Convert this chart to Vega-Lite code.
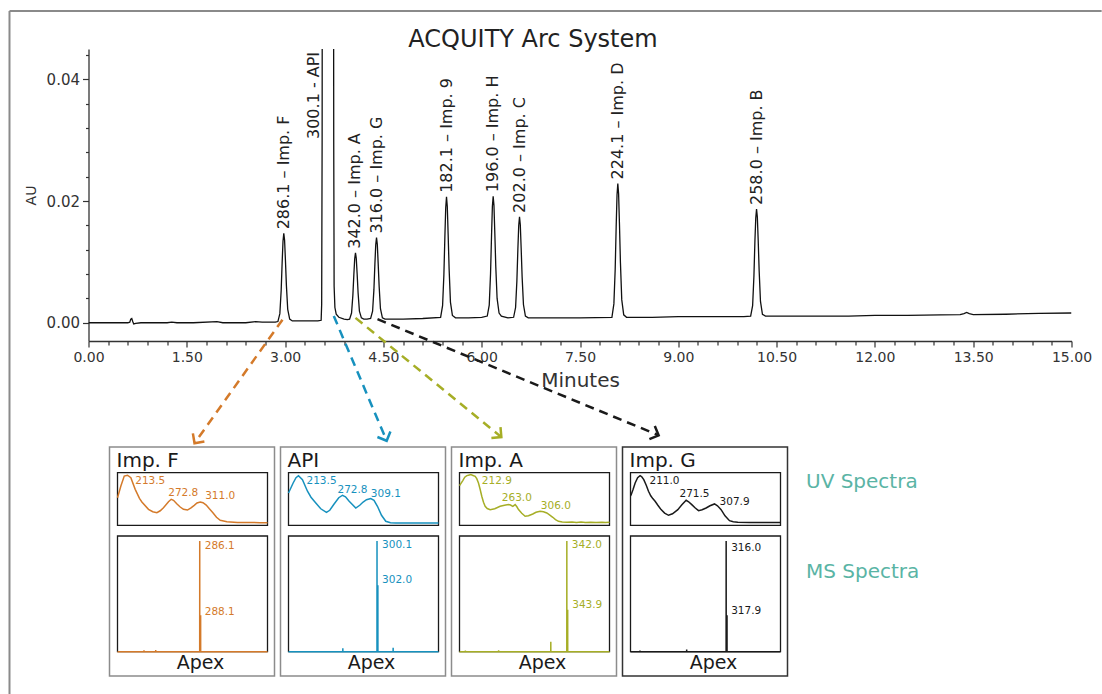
{
  "$schema": "https://vega.github.io/schema/vega-lite/v6.json",
  "padding": {"left": 7.5, "top": 9, "right": 0, "bottom": 0},
  "bounds": "flush",
  "spacing": 106,
  "config": {
    "view": {"stroke": null},
    "font": "DejaVu Sans",
    "text": {"font": "DejaVu Sans"},
    "title": {"font": "DejaVu Sans"},
    "axis": {"labelFont": "DejaVu Sans", "titleFont": "DejaVu Sans", "domainColor": "#333", "tickColor": "#333", "labelColor": "#333", "titleColor": "#333", "grid": false}
  },
  "datasets": {
    "chrom": [
      {"t": 0, "au": 0.0}, {"t": 0.3, "au": 0.0}, {"t": 0.6, "au": 0.0}, {"t": 0.63, "au": 0.0001}, {"t": 0.645, "au": 0.0006}, {"t": 0.66, "au": 0.0007}, {"t": 0.675, "au": 0.0002}, {"t": 0.69, "au": -0.0002}, {"t": 0.72, "au": -0.0001}, {"t": 0.8, "au": 0.0},
      {"t": 1.0, "au": 0.0}, {"t": 1.2, "au": 0.0}, {"t": 1.27, "au": 0.0001}, {"t": 1.35, "au": 0.0}, {"t": 1.6, "au": 0.0}, {"t": 1.96, "au": 0.0002}, {"t": 2.05, "au": 0.0}, {"t": 2.4, "au": 0.0}, {"t": 2.55, "au": 0.0002}, {"t": 2.65, "au": 0.0001}, {"t": 2.85, "au": 0.0001},
      {"t": 2.89, "au": 0.0002}, {"t": 2.92, "au": 0.0015}, {"t": 2.94, "au": 0.0053}, {"t": 2.955, "au": 0.0099}, {"t": 2.968, "au": 0.0134}, {"t": 2.98, "au": 0.0147}, {"t": 2.992, "au": 0.0136}, {"t": 3.005, "au": 0.0103}, {"t": 3.02, "au": 0.0061}, {"t": 3.04, "au": 0.0022}, {"t": 3.07, "au": 0.0006}, {"t": 3.11, "au": 0.0003},
      {"t": 3.3, "au": 0.0003}, {"t": 3.5, "au": 0.0003}, {"t": 3.55, "au": 0.0004}, {"t": 3.558, "au": 0.003}, {"t": 3.565, "au": 0.03}, {"t": 3.572, "au": 0.12}, {"t": 3.6, "au": 0.2}, {"t": 3.65, "au": 0.22}, {"t": 3.7, "au": 0.2}, {"t": 3.735, "au": 0.12}, {"t": 3.742, "au": 0.03}, {"t": 3.748, "au": 0.006}, {"t": 3.76, "au": 0.0025}, {"t": 3.78, "au": 0.0014}, {"t": 3.82, "au": 0.0009}, {"t": 3.9, "au": 0.0006}, {"t": 3.95, "au": 0.0005},
      {"t": 3.984, "au": 0.0006}, {"t": 4.014, "au": 0.0016}, {"t": 4.034, "au": 0.0045}, {"t": 4.049, "au": 0.0079}, {"t": 4.062, "au": 0.0105}, {"t": 4.074, "au": 0.0115}, {"t": 4.086, "au": 0.0106}, {"t": 4.099, "au": 0.0081}, {"t": 4.114, "au": 0.0049}, {"t": 4.134, "au": 0.0019}, {"t": 4.164, "au": 0.0008}, {"t": 4.2, "au": 0.0006}, {"t": 4.25, "au": 0.0006},
      {"t": 4.305, "au": 0.0007}, {"t": 4.335, "au": 0.0019}, {"t": 4.355, "au": 0.0054}, {"t": 4.37, "au": 0.0096}, {"t": 4.383, "au": 0.0128}, {"t": 4.395, "au": 0.014}, {"t": 4.407, "au": 0.0129}, {"t": 4.42, "au": 0.0098}, {"t": 4.435, "au": 0.006}, {"t": 4.455, "au": 0.0023}, {"t": 4.485, "au": 0.0008}, {"t": 4.525, "au": 0.0006},
      {"t": 4.8, "au": 0.0006}, {"t": 5.1, "au": 0.0007},
      {"t": 5.373, "au": 0.0009}, {"t": 5.403, "au": 0.0028}, {"t": 5.423, "au": 0.0079}, {"t": 5.438, "au": 0.0141}, {"t": 5.451, "au": 0.0189}, {"t": 5.463, "au": 0.0207}, {"t": 5.475, "au": 0.0191}, {"t": 5.488, "au": 0.0145}, {"t": 5.503, "au": 0.0088}, {"t": 5.523, "au": 0.0034}, {"t": 5.553, "au": 0.0012}, {"t": 5.6, "au": 0.0008},
      {"t": 5.8, "au": 0.0008}, {"t": 6.0, "au": 0.0009},
      {"t": 6.085, "au": 0.0011}, {"t": 6.115, "au": 0.0029}, {"t": 6.135, "au": 0.0081}, {"t": 6.15, "au": 0.0143}, {"t": 6.163, "au": 0.0191}, {"t": 6.175, "au": 0.0208}, {"t": 6.187, "au": 0.0193}, {"t": 6.2, "au": 0.0148}, {"t": 6.215, "au": 0.0092}, {"t": 6.235, "au": 0.004}, {"t": 6.265, "au": 0.0016}, {"t": 6.3, "au": 0.0011}, {"t": 6.4, "au": 0.0008},
      {"t": 6.487, "au": 0.0009}, {"t": 6.517, "au": 0.0025}, {"t": 6.537, "au": 0.0069}, {"t": 6.552, "au": 0.0121}, {"t": 6.565, "au": 0.016}, {"t": 6.577, "au": 0.0174}, {"t": 6.589, "au": 0.0161}, {"t": 6.602, "au": 0.0123}, {"t": 6.617, "au": 0.0075}, {"t": 6.637, "au": 0.003}, {"t": 6.667, "au": 0.0011}, {"t": 6.71, "au": 0.0008},
      {"t": 7.0, "au": 0.0008}, {"t": 7.5, "au": 0.0008},
      {"t": 7.987, "au": 0.0009}, {"t": 8.017, "au": 0.0031}, {"t": 8.037, "au": 0.0088}, {"t": 8.052, "au": 0.0158}, {"t": 8.065, "au": 0.021}, {"t": 8.077, "au": 0.0229}, {"t": 8.089, "au": 0.0212}, {"t": 8.102, "au": 0.0163}, {"t": 8.117, "au": 0.0099}, {"t": 8.137, "au": 0.0038}, {"t": 8.167, "au": 0.0013}, {"t": 8.21, "au": 0.0009},
      {"t": 8.6, "au": 0.0009}, {"t": 9.0, "au": 0.001}, {"t": 9.5, "au": 0.001}, {"t": 10.0, "au": 0.001},
      {"t": 10.104, "au": 0.0011}, {"t": 10.134, "au": 0.0028}, {"t": 10.154, "au": 0.0077}, {"t": 10.169, "au": 0.0134}, {"t": 10.182, "au": 0.0172}, {"t": 10.194, "au": 0.0187}, {"t": 10.206, "au": 0.0174}, {"t": 10.219, "au": 0.0136}, {"t": 10.234, "au": 0.0085}, {"t": 10.254, "au": 0.0035}, {"t": 10.284, "au": 0.0014}, {"t": 10.33, "au": 0.0011},
      {"t": 11.0, "au": 0.0011}, {"t": 11.6, "au": 0.0011}, {"t": 12.0, "au": 0.0012}, {"t": 12.5, "au": 0.0012}, {"t": 13.0, "au": 0.0013}, {"t": 13.3, "au": 0.00135}, {"t": 13.36, "au": 0.0015}, {"t": 13.4, "au": 0.0017}, {"t": 13.44, "au": 0.0015}, {"t": 13.5, "au": 0.00135}, {"t": 14.0, "au": 0.0014}, {"t": 14.5, "au": 0.00155}, {"t": 15.0, "au": 0.0016}
    ],
    "peaks": [
      {"label": "286.1 – Imp. F", "t": 2.98, "h": 0.0147},
      {"label": "300.1 - API", "t": 3.44, "h": 0.02955},
      {"label": "342.0 – Imp. A", "t": 4.074, "h": 0.0115},
      {"label": "316.0 – Imp. G", "t": 4.395, "h": 0.014},
      {"label": "182.1 – Imp. 9", "t": 5.463, "h": 0.0207},
      {"label": "196.0 – Imp. H", "t": 6.175, "h": 0.0208},
      {"label": "202.0 – Imp. C", "t": 6.577, "h": 0.0174},
      {"label": "224.1 – Imp. D", "t": 8.077, "h": 0.0229},
      {"label": "258.0 – Imp. B", "t": 10.194, "h": 0.0187}
    ],
    "arrows": [
      {"compound": "Imp. F", "t0": 2.96, "a0": 0.0005, "t1": 1.618, "a1": -0.0198},
      {"compound": "API", "t0": 3.743, "a0": 0.0011, "t1": 4.55, "a1": -0.0194},
      {"compound": "Imp. A", "t0": 4.074, "a0": 0.0008, "t1": 6.3, "a1": -0.0188},
      {"compound": "Imp. G", "t0": 4.41, "a0": 0.0006, "t1": 8.7, "a1": -0.0185}
    ],
    "uv": [
      {"compound": "Imp. F", "wl": 200, "a": 0.551}, {"compound": "Imp. F", "wl": 204.5, "a": 0.784}, {"compound": "Imp. F", "wl": 209, "a": 0.984}, {"compound": "Imp. F", "wl": 213.3, "a": 1.0}, {"compound": "Imp. F", "wl": 217.8, "a": 0.95}, {"compound": "Imp. F", "wl": 223.6, "a": 0.718}, {"compound": "Imp. F", "wl": 229.3, "a": 0.539}, {"compound": "Imp. F", "wl": 232.5, "a": 0.465}, {"compound": "Imp. F", "wl": 241.3, "a": 0.319}, {"compound": "Imp. F", "wl": 247, "a": 0.27}, {"compound": "Imp. F", "wl": 252.5, "a": 0.252}, {"compound": "Imp. F", "wl": 257, "a": 0.29}, {"compound": "Imp. F", "wl": 261.3, "a": 0.351}, {"compound": "Imp. F", "wl": 268, "a": 0.471}, {"compound": "Imp. F", "wl": 271.6, "a": 0.519}, {"compound": "Imp. F", "wl": 274.7, "a": 0.499}, {"compound": "Imp. F", "wl": 279, "a": 0.43}, {"compound": "Imp. F", "wl": 283.6, "a": 0.365}, {"compound": "Imp. F", "wl": 288, "a": 0.32}, {"compound": "Imp. F", "wl": 293.3, "a": 0.305}, {"compound": "Imp. F", "wl": 298, "a": 0.35}, {"compound": "Imp. F", "wl": 302.3, "a": 0.399}, {"compound": "Imp. F", "wl": 306, "a": 0.445}, {"compound": "Imp. F", "wl": 310.3, "a": 0.465}, {"compound": "Imp. F", "wl": 314, "a": 0.45}, {"compound": "Imp. F", "wl": 318.3, "a": 0.405}, {"compound": "Imp. F", "wl": 322.5, "a": 0.33}, {"compound": "Imp. F", "wl": 327.2, "a": 0.252}, {"compound": "Imp. F", "wl": 332, "a": 0.16}, {"compound": "Imp. F", "wl": 337, "a": 0.1}, {"compound": "Imp. F", "wl": 345.9, "a": 0.072}, {"compound": "Imp. F", "wl": 360, "a": 0.058}, {"compound": "Imp. F", "wl": 375, "a": 0.055}, {"compound": "Imp. F", "wl": 390, "a": 0.053}, {"compound": "Imp. F", "wl": 400, "a": 0.052},
      {"compound": "API", "wl": 200, "a": 0.645}, {"compound": "API", "wl": 206.2, "a": 0.845}, {"compound": "API", "wl": 210, "a": 0.95}, {"compound": "API", "wl": 213.3, "a": 0.99}, {"compound": "API", "wl": 218.6, "a": 0.91}, {"compound": "API", "wl": 225.3, "a": 0.68}, {"compound": "API", "wl": 230, "a": 0.56}, {"compound": "API", "wl": 236.4, "a": 0.445}, {"compound": "API", "wl": 243, "a": 0.33}, {"compound": "API", "wl": 250.6, "a": 0.26}, {"compound": "API", "wl": 255, "a": 0.3}, {"compound": "API", "wl": 260.8, "a": 0.425}, {"compound": "API", "wl": 267, "a": 0.55}, {"compound": "API", "wl": 272, "a": 0.6}, {"compound": "API", "wl": 276, "a": 0.57}, {"compound": "API", "wl": 280.9, "a": 0.48}, {"compound": "API", "wl": 289.7, "a": 0.345}, {"compound": "API", "wl": 295, "a": 0.4}, {"compound": "API", "wl": 299.5, "a": 0.465}, {"compound": "API", "wl": 304, "a": 0.51}, {"compound": "API", "wl": 309.7, "a": 0.533}, {"compound": "API", "wl": 314, "a": 0.5}, {"compound": "API", "wl": 318.6, "a": 0.38}, {"compound": "API", "wl": 324, "a": 0.2}, {"compound": "API", "wl": 329.7, "a": 0.08}, {"compound": "API", "wl": 336, "a": 0.052}, {"compound": "API", "wl": 343, "a": 0.046}, {"compound": "API", "wl": 370, "a": 0.046}, {"compound": "API", "wl": 400, "a": 0.046},
      {"compound": "Imp. A", "wl": 200, "a": 0.79}, {"compound": "Imp. A", "wl": 200.9, "a": 0.812}, {"compound": "Imp. A", "wl": 204.4, "a": 0.892}, {"compound": "Imp. A", "wl": 207, "a": 0.96}, {"compound": "Imp. A", "wl": 209.8, "a": 0.992}, {"compound": "Imp. A", "wl": 212, "a": 1.0}, {"compound": "Imp. A", "wl": 215.1, "a": 1.012}, {"compound": "Imp. A", "wl": 218, "a": 0.995}, {"compound": "Imp. A", "wl": 220.9, "a": 0.978}, {"compound": "Imp. A", "wl": 223, "a": 0.93}, {"compound": "Imp. A", "wl": 225.3, "a": 0.845}, {"compound": "Imp. A", "wl": 227.5, "a": 0.72}, {"compound": "Imp. A", "wl": 229.7, "a": 0.579}, {"compound": "Imp. A", "wl": 232, "a": 0.46}, {"compound": "Imp. A", "wl": 234.2, "a": 0.379}, {"compound": "Imp. A", "wl": 237, "a": 0.335}, {"compound": "Imp. A", "wl": 240.9, "a": 0.313}, {"compound": "Imp. A", "wl": 247, "a": 0.33}, {"compound": "Imp. A", "wl": 254.2, "a": 0.379}, {"compound": "Imp. A", "wl": 260, "a": 0.4}, {"compound": "Imp. A", "wl": 265.3, "a": 0.413}, {"compound": "Imp. A", "wl": 268, "a": 0.405}, {"compound": "Imp. A", "wl": 271.1, "a": 0.379}, {"compound": "Imp. A", "wl": 274.2, "a": 0.413}, {"compound": "Imp. A", "wl": 276.5, "a": 0.37}, {"compound": "Imp. A", "wl": 278.7, "a": 0.313}, {"compound": "Imp. A", "wl": 283, "a": 0.24}, {"compound": "Imp. A", "wl": 287.5, "a": 0.18}, {"compound": "Imp. A", "wl": 292, "a": 0.19}, {"compound": "Imp. A", "wl": 297.7, "a": 0.226}, {"compound": "Imp. A", "wl": 302, "a": 0.26}, {"compound": "Imp. A", "wl": 307.5, "a": 0.279}, {"compound": "Imp. A", "wl": 312, "a": 0.27}, {"compound": "Imp. A", "wl": 316.4, "a": 0.246}, {"compound": "Imp. A", "wl": 320, "a": 0.21}, {"compound": "Imp. A", "wl": 324.4, "a": 0.16}, {"compound": "Imp. A", "wl": 328, "a": 0.115}, {"compound": "Imp. A", "wl": 332, "a": 0.08}, {"compound": "Imp. A", "wl": 337, "a": 0.066}, {"compound": "Imp. A", "wl": 343.1, "a": 0.06}, {"compound": "Imp. A", "wl": 350, "a": 0.066}, {"compound": "Imp. A", "wl": 356, "a": 0.058}, {"compound": "Imp. A", "wl": 362, "a": 0.064}, {"compound": "Imp. A", "wl": 368, "a": 0.056}, {"compound": "Imp. A", "wl": 375, "a": 0.062}, {"compound": "Imp. A", "wl": 382, "a": 0.057}, {"compound": "Imp. A", "wl": 390, "a": 0.063}, {"compound": "Imp. A", "wl": 395, "a": 0.058}, {"compound": "Imp. A", "wl": 400, "a": 0.06},
      {"compound": "Imp. G", "wl": 200, "a": 0.59}, {"compound": "Imp. G", "wl": 200.9, "a": 0.612}, {"compound": "Imp. G", "wl": 203.5, "a": 0.72}, {"compound": "Imp. G", "wl": 206.2, "a": 0.845}, {"compound": "Imp. G", "wl": 209.5, "a": 0.95}, {"compound": "Imp. G", "wl": 212.8, "a": 0.992}, {"compound": "Imp. G", "wl": 215, "a": 0.97}, {"compound": "Imp. G", "wl": 217.7, "a": 0.912}, {"compound": "Imp. G", "wl": 221, "a": 0.8}, {"compound": "Imp. G", "wl": 224, "a": 0.679}, {"compound": "Imp. G", "wl": 227, "a": 0.59}, {"compound": "Imp. G", "wl": 229.7, "a": 0.533}, {"compound": "Imp. G", "wl": 232.8, "a": 0.479}, {"compound": "Imp. G", "wl": 236.5, "a": 0.4}, {"compound": "Imp. G", "wl": 240.8, "a": 0.313}, {"compound": "Imp. G", "wl": 245.5, "a": 0.245}, {"compound": "Imp. G", "wl": 250.7, "a": 0.2}, {"compound": "Imp. G", "wl": 256, "a": 0.23}, {"compound": "Imp. G", "wl": 263.1, "a": 0.313}, {"compound": "Imp. G", "wl": 268.5, "a": 0.41}, {"compound": "Imp. G", "wl": 274.2, "a": 0.499}, {"compound": "Imp. G", "wl": 277.5, "a": 0.47}, {"compound": "Imp. G", "wl": 281.7, "a": 0.413}, {"compound": "Imp. G", "wl": 286, "a": 0.35}, {"compound": "Imp. G", "wl": 290.7, "a": 0.293}, {"compound": "Imp. G", "wl": 295.5, "a": 0.31}, {"compound": "Imp. G", "wl": 300.8, "a": 0.346}, {"compound": "Imp. G", "wl": 306, "a": 0.39}, {"compound": "Imp. G", "wl": 312, "a": 0.426}, {"compound": "Imp. G", "wl": 316, "a": 0.39}, {"compound": "Imp. G", "wl": 320.8, "a": 0.313}, {"compound": "Imp. G", "wl": 326, "a": 0.19}, {"compound": "Imp. G", "wl": 332, "a": 0.093}, {"compound": "Imp. G", "wl": 337, "a": 0.07}, {"compound": "Imp. G", "wl": 343.1, "a": 0.06}, {"compound": "Imp. G", "wl": 360, "a": 0.058}, {"compound": "Imp. G", "wl": 380, "a": 0.057}, {"compound": "Imp. G", "wl": 400, "a": 0.056}
    ],
    "uvlab": [
      {"compound": "Imp. F", "label": "213.5", "wl": 223.6, "a": 0.884}, {"compound": "Imp. F", "label": "272.8", "wl": 267.6, "a": 0.651}, {"compound": "Imp. F", "label": "311.0", "wl": 316.9, "a": 0.585},
      {"compound": "API", "label": "213.5", "wl": 224, "a": 0.88}, {"compound": "API", "label": "272.8", "wl": 265.3, "a": 0.713}, {"compound": "API", "label": "309.1", "wl": 309.7, "a": 0.633},
      {"compound": "Imp. A", "label": "212.9", "wl": 229.7, "a": 0.878}, {"compound": "Imp. A", "label": "263.0", "wl": 256.4, "a": 0.545}, {"compound": "Imp. A", "label": "306.0", "wl": 308.4, "a": 0.393},
      {"compound": "Imp. G", "label": "211.0", "wl": 225.3, "a": 0.878}, {"compound": "Imp. G", "label": "271.5", "wl": 265.3, "a": 0.633}, {"compound": "Imp. G", "label": "307.9", "wl": 318.7, "a": 0.459}
    ],
    "ms": [
      {"compound": "Imp. F", "mz": 103, "i": 0}, {"compound": "Imp. F", "mz": 161.9, "i": 0}, {"compound": "Imp. F", "mz": 162, "i": 1.2}, {"compound": "Imp. F", "mz": 162.1, "i": 0}, {"compound": "Imp. F", "mz": 188, "i": 0}, {"compound": "Imp. F", "mz": 188.1, "i": 1.5}, {"compound": "Imp. F", "mz": 188.2, "i": 0}, {"compound": "Imp. F", "mz": 286.0, "i": 0}, {"compound": "Imp. F", "mz": 286.1, "i": 100}, {"compound": "Imp. F", "mz": 286.2, "i": 0}, {"compound": "Imp. F", "mz": 288.0, "i": 0}, {"compound": "Imp. F", "mz": 288.1, "i": 33}, {"compound": "Imp. F", "mz": 288.2, "i": 0}, {"compound": "Imp. F", "mz": 437, "i": 0},
      {"compound": "API", "mz": 103, "i": 0}, {"compound": "API", "mz": 223.9, "i": 0}, {"compound": "API", "mz": 224, "i": 3}, {"compound": "API", "mz": 224.1, "i": 0}, {"compound": "API", "mz": 300.0, "i": 0}, {"compound": "API", "mz": 300.1, "i": 100}, {"compound": "API", "mz": 300.2, "i": 0}, {"compound": "API", "mz": 300.9, "i": 0}, {"compound": "API", "mz": 301.0, "i": 20}, {"compound": "API", "mz": 301.1, "i": 0}, {"compound": "API", "mz": 301.9, "i": 0}, {"compound": "API", "mz": 302.0, "i": 60}, {"compound": "API", "mz": 302.1, "i": 0}, {"compound": "API", "mz": 335.9, "i": 0}, {"compound": "API", "mz": 336, "i": 3.5}, {"compound": "API", "mz": 336.1, "i": 0}, {"compound": "API", "mz": 437, "i": 0},
      {"compound": "Imp. A", "mz": 103, "i": 0}, {"compound": "Imp. A", "mz": 116, "i": 0}, {"compound": "Imp. A", "mz": 116.1, "i": 1}, {"compound": "Imp. A", "mz": 116.2, "i": 0}, {"compound": "Imp. A", "mz": 190, "i": 0}, {"compound": "Imp. A", "mz": 190.1, "i": 1.2}, {"compound": "Imp. A", "mz": 190.2, "i": 0}, {"compound": "Imp. A", "mz": 306.2, "i": 0}, {"compound": "Imp. A", "mz": 306.3, "i": 9}, {"compound": "Imp. A", "mz": 306.4, "i": 0}, {"compound": "Imp. A", "mz": 341.9, "i": 0}, {"compound": "Imp. A", "mz": 342.0, "i": 100}, {"compound": "Imp. A", "mz": 342.1, "i": 0}, {"compound": "Imp. A", "mz": 343.8, "i": 0}, {"compound": "Imp. A", "mz": 343.9, "i": 38}, {"compound": "Imp. A", "mz": 344.0, "i": 0}, {"compound": "Imp. A", "mz": 437, "i": 0},
      {"compound": "Imp. G", "mz": 103, "i": 0}, {"compound": "Imp. G", "mz": 124, "i": 0}, {"compound": "Imp. G", "mz": 124.1, "i": 1}, {"compound": "Imp. G", "mz": 124.2, "i": 0}, {"compound": "Imp. G", "mz": 228, "i": 0}, {"compound": "Imp. G", "mz": 228.1, "i": 2}, {"compound": "Imp. G", "mz": 228.2, "i": 0}, {"compound": "Imp. G", "mz": 315.9, "i": 0}, {"compound": "Imp. G", "mz": 316.0, "i": 100}, {"compound": "Imp. G", "mz": 316.1, "i": 0}, {"compound": "Imp. G", "mz": 317.8, "i": 0}, {"compound": "Imp. G", "mz": 317.9, "i": 33}, {"compound": "Imp. G", "mz": 318.0, "i": 0}, {"compound": "Imp. G", "mz": 437, "i": 0}
    ],
    "mslab": [
      {"compound": "Imp. F", "label": "286.1", "mz": 286.1, "i": 95.5}, {"compound": "Imp. F", "label": "288.1", "mz": 286.1, "i": 36.1},
      {"compound": "API", "label": "300.1", "mz": 300.1, "i": 96.1}, {"compound": "API", "label": "302.0", "mz": 300.1, "i": 64.5},
      {"compound": "Imp. A", "label": "342.0", "mz": 342.0, "i": 96.1}, {"compound": "Imp. A", "label": "343.9", "mz": 342.8, "i": 41.9},
      {"compound": "Imp. G", "label": "316.0", "mz": 316.0, "i": 94}, {"compound": "Imp. G", "label": "317.9", "mz": 316.0, "i": 36.8}
    ]
  },
  "vconcat": [
    {
      "width": 983,
      "height": 292,
      "title": {"text": "ACQUITY Arc System", "fontSize": 24, "fontWeight": "normal", "color": "#222", "dx": -47, "offset": -42},
      "layer": [
        {
          "data": {"values": [{}]},
          "mark": {"type": "rule", "color": "#8a8a8a", "strokeWidth": 2},
          "encoding": {"x": {"datum": -1.2055, "type": "quantitative"}, "y": {"datum": 0.05125, "type": "quantitative"}, "y2": {"datum": -0.0615}}
        },
        {
          "data": {"values": [{}]},
          "mark": {"type": "rule", "color": "#8a8a8a", "strokeWidth": 2},
          "encoding": {"x": {"datum": -1.2055, "type": "quantitative"}, "x2": {"datum": 15.46}, "y": {"datum": 0.05125, "type": "quantitative"}}
        },
        {
          "data": {"name": "chrom"},
          "mark": {"type": "line", "color": "#111", "strokeWidth": 1.3, "clip": true},
          "encoding": {
            "x": {"field": "t", "type": "quantitative", "scale": {"domain": [0, 15], "nice": false, "zero": false},
              "axis": {"values": [0, 0.3, 0.6, 0.9, 1.2, 1.5, 1.8, 2.1, 2.4, 2.7, 3, 3.3, 3.6, 3.9, 4.2, 4.5, 4.8, 5.1, 5.4, 5.7, 6, 6.3, 6.6, 6.9, 7.2, 7.5, 7.8, 8.1, 8.4, 8.7, 9, 9.3, 9.6, 9.9, 10.2, 10.5, 10.8, 11.1, 11.4, 11.7, 12, 12.3, 12.6, 12.9, 13.2, 13.5, 13.8, 14.1, 14.4, 14.7, 15],
                "tickCount": 200,
                "labelExpr": "abs(datum.value/1.5 - round(datum.value/1.5)) < 0.01 ? format(datum.value, '.2f') : ''",
                "tickSize": {"condition": {"test": "abs(datum.value/1.5 - round(datum.value/1.5)) < 0.01", "value": 6}, "value": 4},
                "labelFontSize": 14, "labelPadding": 3, "labelOverlap": false, "labelFlush": false,
                "title": "Minutes", "titleFontSize": 20, "titleFontWeight": "normal", "titlePadding": 6, "domainWidth": 1.3, "tickWidth": 1.2}},
            "y": {"field": "au", "type": "quantitative", "scale": {"domain": [-0.003, 0.045], "nice": false, "zero": false},
              "axis": {"values": [0, 0.004, 0.008, 0.012, 0.016, 0.02, 0.024, 0.028, 0.032, 0.036, 0.04, 0.044],
                "tickCount": 100,
                "labelExpr": "abs(datum.value/0.02 - round(datum.value/0.02)) < 0.01 ? format(datum.value, '.2f') : ''",
                "tickSize": {"condition": {"test": "abs(datum.value/0.02 - round(datum.value/0.02)) < 0.01", "value": 6}, "value": 3},
                "labelFontSize": 15, "labelPadding": 3, "labelOverlap": false, "labelFlush": false,
                "title": "AU", "titleFontSize": 14, "titleFontWeight": "normal", "titlePadding": 8, "domainWidth": 1.3, "tickWidth": 1.2}}
          }
        },
        {
          "data": {"name": "peaks"},
          "mark": {"type": "text", "angle": 270, "align": "left", "baseline": "middle", "dx": 4, "fontSize": 16, "color": "#222"},
          "encoding": {
            "x": {"field": "t", "type": "quantitative"},
            "y": {"field": "h", "type": "quantitative"},
            "text": {"field": "label"}
          }
        },
        {
          "data": {"name": "arrows"},
          "mark": {"type": "rule", "strokeWidth": 2.5, "strokeDash": [9, 6]},
          "encoding": {
            "x": {"field": "t0", "type": "quantitative"},
            "y": {"field": "a0", "type": "quantitative"},
            "x2": {"field": "t1"},
            "y2": {"field": "a1"},
            "color": {"field": "compound", "type": "nominal", "scale": {"domain": ["Imp. F", "API", "Imp. A", "Imp. G"], "range": ["#D47A2A", "#1791BE", "#A6AE26", "#1a1a1a"]}, "legend": null}
          }
        },
        {
          "data": {"name": "arrows"},
          "transform": [{"filter": "datum.compound === 'Imp. F'"}],
          "mark": {"type": "point", "shape": "M-1,-1L0,0L1,-1", "filled": false, "size": 200, "strokeWidth": 2.5, "angle": 35.5, "color": "#D47A2A", "opacity": 1},
          "encoding": {"x": {"field": "t1", "type": "quantitative"}, "y": {"field": "a1", "type": "quantitative"}}
        },
        {
          "data": {"name": "arrows"},
          "transform": [{"filter": "datum.compound === 'API'"}],
          "mark": {"type": "point", "shape": "M-1,-1L0,0L1,-1", "filled": false, "size": 200, "strokeWidth": 2.5, "angle": 337, "color": "#1791BE", "opacity": 1},
          "encoding": {"x": {"field": "t1", "type": "quantitative"}, "y": {"field": "a1", "type": "quantitative"}}
        },
        {
          "data": {"name": "arrows"},
          "transform": [{"filter": "datum.compound === 'Imp. A'"}],
          "mark": {"type": "point", "shape": "M-1,-1L0,0L1,-1", "filled": false, "size": 200, "strokeWidth": 2.5, "angle": 310, "color": "#A6AE26", "opacity": 1},
          "encoding": {"x": {"field": "t1", "type": "quantitative"}, "y": {"field": "a1", "type": "quantitative"}}
        },
        {
          "data": {"name": "arrows"},
          "transform": [{"filter": "datum.compound === 'Imp. G'"}],
          "mark": {"type": "point", "shape": "M-1,-1L0,0L1,-1", "filled": false, "size": 200, "strokeWidth": 2.5, "angle": 292.5, "color": "#1a1a1a", "opacity": 1},
          "encoding": {"x": {"field": "t1", "type": "quantitative"}, "y": {"field": "a1", "type": "quantitative"}}
        }
      ]
    },
    {
      "bounds": "flush",
      "spacing": 6,
      "hconcat": [
        {"width": 15, "height": 229, "data": {"values": [{"s": ""}]}, "mark": {"type": "text"}, "encoding": {"text": {"field": "s"}}},
        {
          "width": 165, "height": 229,
          "view": {"stroke": "#8c8c8c", "strokeWidth": 1.5},
          "resolve": {"scale": {"x": "independent", "y": "independent"}},
          "layer": [
            {"data": {"values": [{}]}, "mark": {"type": "rect", "filled": false, "color": "#1a1a1a", "strokeWidth": 1.3}, "encoding": {"x": {"datum": 200, "type": "quantitative", "scale": {"domain": [200, 400], "range": [8, 158], "nice": false, "zero": false}, "axis": null}, "x2": {"datum": 400}, "y": {"datum": 0, "type": "quantitative", "scale": {"domain": [0, 1.05], "range": [78.3, 25.7], "nice": false, "zero": false}, "axis": null}, "y2": {"datum": 1.05}}},
            {"data": {"name": "uv"}, "transform": [{"filter": "datum.compound === 'Imp. F'"}], "mark": {"type": "line", "color": "#D47A2A", "strokeWidth": 1.5},
              "encoding": {"x": {"field": "wl", "type": "quantitative", "scale": {"domain": [200, 400], "range": [8, 158], "nice": false, "zero": false}, "axis": null},
                "y": {"field": "a", "type": "quantitative", "scale": {"domain": [0, 1.05], "range": [78.3, 25.7], "nice": false, "zero": false}, "axis": null}}},
            {"data": {"name": "uvlab"}, "transform": [{"filter": "datum.compound === 'Imp. F'"}], "mark": {"type": "text", "align": "left", "baseline": "middle", "fontSize": 10.5, "color": "#D47A2A"},
              "encoding": {"x": {"field": "wl", "type": "quantitative", "scale": {"domain": [200, 400], "range": [8, 158], "nice": false, "zero": false}, "axis": null}, "y": {"field": "a", "type": "quantitative", "scale": {"domain": [0, 1.05], "range": [78.3, 25.7], "nice": false, "zero": false}, "axis": null}, "text": {"field": "label"}}},
            {"data": {"values": [{"name": "Imp. F"}]}, "mark": {"type": "text", "align": "left", "baseline": "middle", "fontSize": 20, "color": "#1a1a1a", "dx": -1},
              "encoding": {"x": {"datum": 200, "type": "quantitative", "scale": {"domain": [200, 400], "range": [8, 158], "nice": false, "zero": false}, "axis": null}, "y": {"datum": 1.28, "type": "quantitative", "scale": {"domain": [0, 1.05], "range": [78.3, 25.7], "nice": false, "zero": false}, "axis": null}, "text": {"field": "name"}}},
            {"data": {"values": [{}]}, "mark": {"type": "rect", "filled": false, "color": "#1a1a1a", "strokeWidth": 1.3}, "encoding": {"x": {"datum": 103, "type": "quantitative", "scale": {"domain": [103, 437], "range": [8, 158], "nice": false, "zero": false}, "axis": null}, "x2": {"datum": 437}, "y": {"datum": 0, "type": "quantitative", "scale": {"domain": [0, 104.5], "range": [204.7, 89], "nice": false, "zero": false}, "axis": null}, "y2": {"datum": 104.5}}},
            {"data": {"name": "ms"}, "transform": [{"filter": "datum.compound === 'Imp. F'"}], "mark": {"type": "line", "color": "#D47A2A", "strokeWidth": 1.5},
              "encoding": {"x": {"field": "mz", "type": "quantitative", "scale": {"domain": [103, 437], "range": [8, 158], "nice": false, "zero": false}, "axis": null},
                "y": {"field": "i", "type": "quantitative", "scale": {"domain": [0, 104.5], "range": [204.7, 89], "nice": false, "zero": false}, "axis": null}}},
            {"data": {"name": "mslab"}, "transform": [{"filter": "datum.compound === 'Imp. F'"}], "mark": {"type": "text", "align": "left", "baseline": "middle", "fontSize": 10.5, "dx": 5, "color": "#D47A2A"},
              "encoding": {"x": {"field": "mz", "type": "quantitative", "scale": {"domain": [103, 437], "range": [8, 158], "nice": false, "zero": false}, "axis": null}, "y": {"field": "i", "type": "quantitative", "scale": {"domain": [0, 104.5], "range": [204.7, 89], "nice": false, "zero": false}, "axis": null}, "text": {"field": "label"}}},
            {"data": {"values": [{"name": "Apex"}]}, "mark": {"type": "text", "align": "center", "baseline": "middle", "fontSize": 19, "color": "#1a1a1a"},
              "encoding": {"x": {"datum": 287.8, "type": "quantitative", "scale": {"domain": [103, 437], "range": [8, 158], "nice": false, "zero": false}, "axis": null}, "y": {"datum": -9.9, "type": "quantitative", "scale": {"domain": [0, 104.5], "range": [204.7, 89], "nice": false, "zero": false}, "axis": null}, "text": {"field": "name"}}}
          ]
        },
        {
          "width": 165, "height": 229,
          "view": {"stroke": "#8c8c8c", "strokeWidth": 1.5},
          "resolve": {"scale": {"x": "independent", "y": "independent"}},
          "layer": [
            {"data": {"values": [{}]}, "mark": {"type": "rect", "filled": false, "color": "#1a1a1a", "strokeWidth": 1.3}, "encoding": {"x": {"datum": 200, "type": "quantitative", "scale": {"domain": [200, 400], "range": [8, 158], "nice": false, "zero": false}, "axis": null}, "x2": {"datum": 400}, "y": {"datum": 0, "type": "quantitative", "scale": {"domain": [0, 1.05], "range": [78.3, 25.7], "nice": false, "zero": false}, "axis": null}, "y2": {"datum": 1.05}}},
            {"data": {"name": "uv"}, "transform": [{"filter": "datum.compound === 'API'"}], "mark": {"type": "line", "color": "#1791BE", "strokeWidth": 1.5},
              "encoding": {"x": {"field": "wl", "type": "quantitative", "scale": {"domain": [200, 400], "range": [8, 158], "nice": false, "zero": false}, "axis": null},
                "y": {"field": "a", "type": "quantitative", "scale": {"domain": [0, 1.05], "range": [78.3, 25.7], "nice": false, "zero": false}, "axis": null}}},
            {"data": {"name": "uvlab"}, "transform": [{"filter": "datum.compound === 'API'"}], "mark": {"type": "text", "align": "left", "baseline": "middle", "fontSize": 10.5, "color": "#1791BE"},
              "encoding": {"x": {"field": "wl", "type": "quantitative", "scale": {"domain": [200, 400], "range": [8, 158], "nice": false, "zero": false}, "axis": null}, "y": {"field": "a", "type": "quantitative", "scale": {"domain": [0, 1.05], "range": [78.3, 25.7], "nice": false, "zero": false}, "axis": null}, "text": {"field": "label"}}},
            {"data": {"values": [{"name": "API"}]}, "mark": {"type": "text", "align": "left", "baseline": "middle", "fontSize": 20, "color": "#1a1a1a", "dx": -1},
              "encoding": {"x": {"datum": 200, "type": "quantitative", "scale": {"domain": [200, 400], "range": [8, 158], "nice": false, "zero": false}, "axis": null}, "y": {"datum": 1.28, "type": "quantitative", "scale": {"domain": [0, 1.05], "range": [78.3, 25.7], "nice": false, "zero": false}, "axis": null}, "text": {"field": "name"}}},
            {"data": {"values": [{}]}, "mark": {"type": "rect", "filled": false, "color": "#1a1a1a", "strokeWidth": 1.3}, "encoding": {"x": {"datum": 103, "type": "quantitative", "scale": {"domain": [103, 437], "range": [8, 158], "nice": false, "zero": false}, "axis": null}, "x2": {"datum": 437}, "y": {"datum": 0, "type": "quantitative", "scale": {"domain": [0, 104.5], "range": [204.7, 89], "nice": false, "zero": false}, "axis": null}, "y2": {"datum": 104.5}}},
            {"data": {"name": "ms"}, "transform": [{"filter": "datum.compound === 'API'"}], "mark": {"type": "line", "color": "#1791BE", "strokeWidth": 1.5},
              "encoding": {"x": {"field": "mz", "type": "quantitative", "scale": {"domain": [103, 437], "range": [8, 158], "nice": false, "zero": false}, "axis": null},
                "y": {"field": "i", "type": "quantitative", "scale": {"domain": [0, 104.5], "range": [204.7, 89], "nice": false, "zero": false}, "axis": null}}},
            {"data": {"name": "mslab"}, "transform": [{"filter": "datum.compound === 'API'"}], "mark": {"type": "text", "align": "left", "baseline": "middle", "fontSize": 10.5, "dx": 5, "color": "#1791BE"},
              "encoding": {"x": {"field": "mz", "type": "quantitative", "scale": {"domain": [103, 437], "range": [8, 158], "nice": false, "zero": false}, "axis": null}, "y": {"field": "i", "type": "quantitative", "scale": {"domain": [0, 104.5], "range": [204.7, 89], "nice": false, "zero": false}, "axis": null}, "text": {"field": "label"}}},
            {"data": {"values": [{"name": "Apex"}]}, "mark": {"type": "text", "align": "center", "baseline": "middle", "fontSize": 19, "color": "#1a1a1a"},
              "encoding": {"x": {"datum": 287.8, "type": "quantitative", "scale": {"domain": [103, 437], "range": [8, 158], "nice": false, "zero": false}, "axis": null}, "y": {"datum": -9.9, "type": "quantitative", "scale": {"domain": [0, 104.5], "range": [204.7, 89], "nice": false, "zero": false}, "axis": null}, "text": {"field": "name"}}}
          ]
        },
        {
          "width": 165, "height": 229,
          "view": {"stroke": "#8c8c8c", "strokeWidth": 1.5},
          "resolve": {"scale": {"x": "independent", "y": "independent"}},
          "layer": [
            {"data": {"values": [{}]}, "mark": {"type": "rect", "filled": false, "color": "#1a1a1a", "strokeWidth": 1.3}, "encoding": {"x": {"datum": 200, "type": "quantitative", "scale": {"domain": [200, 400], "range": [8, 158], "nice": false, "zero": false}, "axis": null}, "x2": {"datum": 400}, "y": {"datum": 0, "type": "quantitative", "scale": {"domain": [0, 1.05], "range": [78.3, 25.7], "nice": false, "zero": false}, "axis": null}, "y2": {"datum": 1.05}}},
            {"data": {"name": "uv"}, "transform": [{"filter": "datum.compound === 'Imp. A'"}], "mark": {"type": "line", "color": "#A6AE26", "strokeWidth": 1.5},
              "encoding": {"x": {"field": "wl", "type": "quantitative", "scale": {"domain": [200, 400], "range": [8, 158], "nice": false, "zero": false}, "axis": null},
                "y": {"field": "a", "type": "quantitative", "scale": {"domain": [0, 1.05], "range": [78.3, 25.7], "nice": false, "zero": false}, "axis": null}}},
            {"data": {"name": "uvlab"}, "transform": [{"filter": "datum.compound === 'Imp. A'"}], "mark": {"type": "text", "align": "left", "baseline": "middle", "fontSize": 10.5, "color": "#A6AE26"},
              "encoding": {"x": {"field": "wl", "type": "quantitative", "scale": {"domain": [200, 400], "range": [8, 158], "nice": false, "zero": false}, "axis": null}, "y": {"field": "a", "type": "quantitative", "scale": {"domain": [0, 1.05], "range": [78.3, 25.7], "nice": false, "zero": false}, "axis": null}, "text": {"field": "label"}}},
            {"data": {"values": [{"name": "Imp. A"}]}, "mark": {"type": "text", "align": "left", "baseline": "middle", "fontSize": 20, "color": "#1a1a1a", "dx": -1},
              "encoding": {"x": {"datum": 200, "type": "quantitative", "scale": {"domain": [200, 400], "range": [8, 158], "nice": false, "zero": false}, "axis": null}, "y": {"datum": 1.28, "type": "quantitative", "scale": {"domain": [0, 1.05], "range": [78.3, 25.7], "nice": false, "zero": false}, "axis": null}, "text": {"field": "name"}}},
            {"data": {"values": [{}]}, "mark": {"type": "rect", "filled": false, "color": "#1a1a1a", "strokeWidth": 1.3}, "encoding": {"x": {"datum": 103, "type": "quantitative", "scale": {"domain": [103, 437], "range": [8, 158], "nice": false, "zero": false}, "axis": null}, "x2": {"datum": 437}, "y": {"datum": 0, "type": "quantitative", "scale": {"domain": [0, 104.5], "range": [204.7, 89], "nice": false, "zero": false}, "axis": null}, "y2": {"datum": 104.5}}},
            {"data": {"name": "ms"}, "transform": [{"filter": "datum.compound === 'Imp. A'"}], "mark": {"type": "line", "color": "#A6AE26", "strokeWidth": 1.5},
              "encoding": {"x": {"field": "mz", "type": "quantitative", "scale": {"domain": [103, 437], "range": [8, 158], "nice": false, "zero": false}, "axis": null},
                "y": {"field": "i", "type": "quantitative", "scale": {"domain": [0, 104.5], "range": [204.7, 89], "nice": false, "zero": false}, "axis": null}}},
            {"data": {"name": "mslab"}, "transform": [{"filter": "datum.compound === 'Imp. A'"}], "mark": {"type": "text", "align": "left", "baseline": "middle", "fontSize": 10.5, "dx": 5, "color": "#A6AE26"},
              "encoding": {"x": {"field": "mz", "type": "quantitative", "scale": {"domain": [103, 437], "range": [8, 158], "nice": false, "zero": false}, "axis": null}, "y": {"field": "i", "type": "quantitative", "scale": {"domain": [0, 104.5], "range": [204.7, 89], "nice": false, "zero": false}, "axis": null}, "text": {"field": "label"}}},
            {"data": {"values": [{"name": "Apex"}]}, "mark": {"type": "text", "align": "center", "baseline": "middle", "fontSize": 19, "color": "#1a1a1a"},
              "encoding": {"x": {"datum": 287.8, "type": "quantitative", "scale": {"domain": [103, 437], "range": [8, 158], "nice": false, "zero": false}, "axis": null}, "y": {"datum": -9.9, "type": "quantitative", "scale": {"domain": [0, 104.5], "range": [204.7, 89], "nice": false, "zero": false}, "axis": null}, "text": {"field": "name"}}}
          ]
        },
        {
          "width": 165, "height": 229,
          "view": {"stroke": "#333333", "strokeWidth": 1.5},
          "resolve": {"scale": {"x": "independent", "y": "independent"}},
          "layer": [
            {"data": {"values": [{}]}, "mark": {"type": "rect", "filled": false, "color": "#1a1a1a", "strokeWidth": 1.3}, "encoding": {"x": {"datum": 200, "type": "quantitative", "scale": {"domain": [200, 400], "range": [8, 158], "nice": false, "zero": false}, "axis": null}, "x2": {"datum": 400}, "y": {"datum": 0, "type": "quantitative", "scale": {"domain": [0, 1.05], "range": [78.3, 25.7], "nice": false, "zero": false}, "axis": null}, "y2": {"datum": 1.05}}},
            {"data": {"name": "uv"}, "transform": [{"filter": "datum.compound === 'Imp. G'"}], "mark": {"type": "line", "color": "#1a1a1a", "strokeWidth": 1.5},
              "encoding": {"x": {"field": "wl", "type": "quantitative", "scale": {"domain": [200, 400], "range": [8, 158], "nice": false, "zero": false}, "axis": null},
                "y": {"field": "a", "type": "quantitative", "scale": {"domain": [0, 1.05], "range": [78.3, 25.7], "nice": false, "zero": false}, "axis": null}}},
            {"data": {"name": "uvlab"}, "transform": [{"filter": "datum.compound === 'Imp. G'"}], "mark": {"type": "text", "align": "left", "baseline": "middle", "fontSize": 10.5, "color": "#1a1a1a"},
              "encoding": {"x": {"field": "wl", "type": "quantitative", "scale": {"domain": [200, 400], "range": [8, 158], "nice": false, "zero": false}, "axis": null}, "y": {"field": "a", "type": "quantitative", "scale": {"domain": [0, 1.05], "range": [78.3, 25.7], "nice": false, "zero": false}, "axis": null}, "text": {"field": "label"}}},
            {"data": {"values": [{"name": "Imp. G"}]}, "mark": {"type": "text", "align": "left", "baseline": "middle", "fontSize": 20, "color": "#1a1a1a", "dx": -1},
              "encoding": {"x": {"datum": 200, "type": "quantitative", "scale": {"domain": [200, 400], "range": [8, 158], "nice": false, "zero": false}, "axis": null}, "y": {"datum": 1.28, "type": "quantitative", "scale": {"domain": [0, 1.05], "range": [78.3, 25.7], "nice": false, "zero": false}, "axis": null}, "text": {"field": "name"}}},
            {"data": {"values": [{}]}, "mark": {"type": "rect", "filled": false, "color": "#1a1a1a", "strokeWidth": 1.3}, "encoding": {"x": {"datum": 103, "type": "quantitative", "scale": {"domain": [103, 437], "range": [8, 158], "nice": false, "zero": false}, "axis": null}, "x2": {"datum": 437}, "y": {"datum": 0, "type": "quantitative", "scale": {"domain": [0, 104.5], "range": [204.7, 89], "nice": false, "zero": false}, "axis": null}, "y2": {"datum": 104.5}}},
            {"data": {"name": "ms"}, "transform": [{"filter": "datum.compound === 'Imp. G'"}], "mark": {"type": "line", "color": "#1a1a1a", "strokeWidth": 1.5},
              "encoding": {"x": {"field": "mz", "type": "quantitative", "scale": {"domain": [103, 437], "range": [8, 158], "nice": false, "zero": false}, "axis": null},
                "y": {"field": "i", "type": "quantitative", "scale": {"domain": [0, 104.5], "range": [204.7, 89], "nice": false, "zero": false}, "axis": null}}},
            {"data": {"name": "mslab"}, "transform": [{"filter": "datum.compound === 'Imp. G'"}], "mark": {"type": "text", "align": "left", "baseline": "middle", "fontSize": 10.5, "dx": 5, "color": "#1a1a1a"},
              "encoding": {"x": {"field": "mz", "type": "quantitative", "scale": {"domain": [103, 437], "range": [8, 158], "nice": false, "zero": false}, "axis": null}, "y": {"field": "i", "type": "quantitative", "scale": {"domain": [0, 104.5], "range": [204.7, 89], "nice": false, "zero": false}, "axis": null}, "text": {"field": "label"}}},
            {"data": {"values": [{"name": "Apex"}]}, "mark": {"type": "text", "align": "center", "baseline": "middle", "fontSize": 19, "color": "#1a1a1a"},
              "encoding": {"x": {"datum": 287.8, "type": "quantitative", "scale": {"domain": [103, 437], "range": [8, 158], "nice": false, "zero": false}, "axis": null}, "y": {"datum": -9.9, "type": "quantitative", "scale": {"domain": [0, 104.5], "range": [204.7, 89], "nice": false, "zero": false}, "axis": null}, "text": {"field": "name"}}}
          ]
        },
        {
          "width": 25, "height": 229,
          "data": {"values": [{"label": "UV Spectra", "row": "UV"}, {"label": "MS Spectra", "row": "MS"}]},
          "mark": {"type": "text", "align": "left", "baseline": "middle", "fontSize": 20, "color": "#5AB4A5"},
          "encoding": {
            "y": {"field": "row", "type": "nominal", "scale": {"type": "point", "domain": ["UV", "MS"], "range": [34.7, 124.7], "padding": 0}, "axis": null},
            "text": {"field": "label"}
          }
        }
      ]
    }
  ]
}
